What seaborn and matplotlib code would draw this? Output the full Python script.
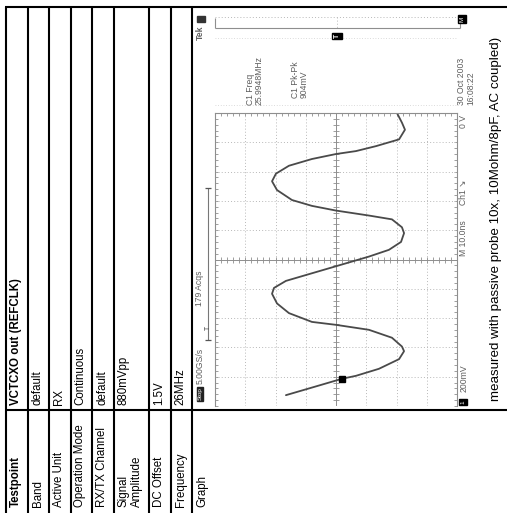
import numpy as np
import pandas as pd
import matplotlib
matplotlib.use("Agg")
import matplotlib.pyplot as plt
import seaborn as sns

sns.set_theme(style="white")
plt.rcParams['font.family'] = ['Liberation Sans', 'DejaVu Sans']

# ---------------- data ----------------
row_labels = ["Testpoint", "Band", "Active Unit", "Operation Mode", "RX/TX Channel",
              "Signal\nAmplitude", "DC Offset", "Frequency", "Graph"]
row_values = ["VCTCXO out (REFCLK)", "default", "RX", "Continuous", "default",
              "880mVpp", "1.5V", "26MHz", ""]
caption = "measured with passive probe 10x, 10Mohm/8pF, AC coupled)"

# oscilloscope trace (time in ns, voltage in mV)
wave_time_ns = [3.7, 6.7, 9.3, 10.3, 12.7, 16.0, 18.7, 20.3, 23.3, 26.0, 27.7, 28.7,
                31.7, 35.0, 38.3, 40.3, 42.7, 45.0, 47.7, 48.7, 51.0, 53.3, 56.0,
                59.0, 61.0, 63.7, 65.0, 66.7, 68.3, 70.3, 73.7, 76.7, 79.3, 82.0,
                84.3, 86.0, 87.0, 88.7, 91.0, 94.3, 96.7, 100.0]
wave_mv = [331, 132, -40, -132, -284, -417, -450, -436, -370, -218, 0, 159,
           311, 390, 423, 410, 331, 179, 0, -66, -218, -350, -430,
           -450, -436, -370, -218, 0, 159, 291, 390, 423, 397, 311,
           159, 0, -132, -265, -417, -456, -436, -403]
trig_time_ns, trig_mv = 9.3, -40

readouts = {
    "freq": "C1 Freq\n25.9948MHz",
    "pkpk": "C1 Pk-Pk\n904mV",
    "date": "30 Oct 2003\n16:08:22",
    "offset": "0 V",
    "timebase": "M 10.0ns",
    "trigger": "Ch1 \u2198",
    "scale": "200mV",
    "acqs": "179 Acqs",
    "rate": "5.00GS/s",
    "state": "Stop",
    "logo": "Tek",
}

# ---------------- figure ----------------
W, H = 507, 513
fig = plt.figure(figsize=(W / 100, H / 100), dpi=100)
ax = fig.add_axes([0, 0, 1, 1])
ax.set_xlim(0, W)
ax.set_ylim(H, 0)
ax.axis('off')

# table grid (table is rotated 90 degrees)
edges = [6, 27.7, 49.3, 70.7, 92.3, 113.7, 149, 170.7, 192.3]
lw_t = 1.5
ax.hlines(7, 5.3, W, color='black', lw=lw_t)
ax.vlines(edges, 7, H, color='black', lw=lw_t)
ax.hlines(410, 6, W, color='black', lw=lw_t)

fs = 8.3
for i, (lab, val) in enumerate(zip(row_labels, row_values)):
    weight = 'bold' if i == 0 else 'normal'
    x = edges[i] + 3.8
    ax.text(x, 507, lab, rotation=90, ha='left', va='bottom', fontsize=fs,
            fontweight=weight, color='black', multialignment='left')
    if val:
        ax.text(x, 405, val, rotation=90, ha='left', va='bottom', fontsize=fs,
                fontweight=weight, color='black')

ax.text(496, 401, caption, rotation=90, ha='center', va='bottom', fontsize=9.6,
        color='black')

# ---------------- scope graticule ----------------
gx0, gx1, gtop, gbot = 215, 457, 113, 406
sax = fig.add_axes([gx0 / W, (H - gbot) / H, (gx1 - gx0) / W, (gbot - gtop) / H])
sax.patch.set_alpha(0)
sax.set_xlim(800, -800)
sax.set_ylim((413 - gbot) / 3.0, 100)
gcol = '#8e8e8e'
for s in ['top', 'left', 'right']:
    sax.spines[s].set_color(gcol)
    sax.spines[s].set_linewidth(0.8)
sax.spines['bottom'].set_visible(False)
sax.set_xticks(np.arange(-800, 801, 40))
sax.set_yticks(np.arange(0, 101, 2))
sax.tick_params(axis='x', which='both', top=True, bottom=False, labeltop=False,
                labelbottom=False, direction='in', length=2.5, width=0.6, color=gcol)
sax.tick_params(axis='y', which='both', left=True, right=True, labelleft=False,
                labelright=False, direction='in', length=2.5, width=0.6, color=gcol)
grid_style = dict(color='#b8b8b8', lw=0.7, ls=(0, (1, 2.2)))
for v in [-600, -400, -200, 200, 400, 600]:
    sax.axvline(v, **grid_style)
for t in [10, 20, 30, 40, 60, 70, 80, 90]:
    sax.axhline(t, **grid_style)
sax.axvline(0, color=gcol, lw=0.7)
sax.axhline(50, color=gcol, lw=0.7)
tt = np.arange(2, 100, 2)
sax.plot(np.zeros_like(tt), tt, ls='none', marker='_', ms=4, mew=0.6, color=gcol)
vv = np.arange(-760, 761, 40)
sax.plot(vv, np.full_like(vv, 50), ls='none', marker='|', ms=4, mew=0.6, color=gcol)

wave = pd.DataFrame({"time_ns": wave_time_ns, "mV": wave_mv})
sns.lineplot(data=wave, x="mV", y="time_ns", sort=False, estimator=None, ax=sax,
             color='#4a4a4a', lw=1.3)
sax.plot(trig_mv, trig_time_ns, 's', ms=5, color='black', clip_on=False)
sax.set_xlabel('')
sax.set_ylabel('')

# ---------------- scope readouts / decorations ----------------
rc = '#5e5e5e'
rfs = 6.2
# record view bar at top of screen
ax.hlines(28, 215, 460, color=gcol, lw=0.8)
ax.vlines([215, 460], 18, 28, color=gcol, lw=0.8)
ax.hlines(17, 215, 460, color='#b8b8b8', lw=0.7, linestyles=(0, (1, 2.2)))
ax.hlines([38, 105], 215, 457, color='#cfcfcf', lw=0.6, linestyles=(0, (1, 2.2)))
ax.vlines(337, 17, 28, color='#b8b8b8', lw=0.7, linestyles=(0, (1, 2.2)))
ax.text(337, 36, "T", rotation=90, ha='center', va='center', fontsize=5, color='white',
        fontweight='bold', bbox=dict(boxstyle='square,pad=0.15', fc='black', ec='black'))

ax.text(246, 105, readouts["freq"], rotation=90, ha='left', va='bottom', fontsize=rfs,
        color=rc, multialignment='left', linespacing=1.0)
ax.text(291, 98, readouts["pkpk"], rotation=90, ha='left', va='bottom', fontsize=rfs,
        color=rc, multialignment='left', linespacing=1.0)
ax.text(457, 105, readouts["date"], rotation=90, ha='left', va='bottom', fontsize=rfs,
        color=rc, multialignment='left', linespacing=1.0)
ax.text(464, 128, readouts["offset"], rotation=90, ha='center', va='bottom', fontsize=rfs,
        color=rc)
ax.text(464, 205, readouts["trigger"], rotation=90, ha='center', va='bottom', fontsize=rfs,
        color=rc)
ax.text(464, 256, readouts["timebase"], rotation=90, ha='center', va='bottom', fontsize=rfs,
        color=rc)
ax.text(464, 392, readouts["scale"], rotation=90, ha='center', va='bottom', fontsize=rfs,
        color=rc)
ax.text(463, 402, "1", rotation=90, ha='center', va='center', fontsize=4.5, color='white',
        bbox=dict(boxstyle='square,pad=0.2', fc='black', ec='black'))
ax.text(462, 19, "M", rotation=90, ha='center', va='center', fontsize=4.5, color='white',
        bbox=dict(boxstyle='square,pad=0.2', fc='black', ec='black'))

ax.text(200, 306, readouts["acqs"], rotation=90, ha='center', va='bottom', fontsize=rfs,
        color=rc)
ax.text(200, 384, readouts["rate"], rotation=90, ha='center', va='bottom', fontsize=rfs,
        color=rc)
ax.text(200, 394, readouts["state"], rotation=90, ha='center', va='center', fontsize=4.5,
        color='white', bbox=dict(boxstyle='square,pad=0.15', fc='#222222', ec='#222222'))
ax.text(200, 40, readouts["logo"], rotation=90, ha='center', va='bottom', fontsize=rfs,
        color=rc, fontweight='bold')
ax.text(201, 19, " ", rotation=90, ha='center', va='center', fontsize=4.5,
        bbox=dict(boxstyle='square,pad=0.3', fc='#333333', ec='#333333'))

# horizontal position indicator
ax.vlines(208, 188, 340, color='#777777', lw=0.8)
ax.hlines([188, 340], 205, 211, color='#555555', lw=0.9)
ax.text(208, 328, "T", rotation=90, ha='center', va='center', fontsize=5, color='#444444')

fig.savefig("out.png", dpi=100)
